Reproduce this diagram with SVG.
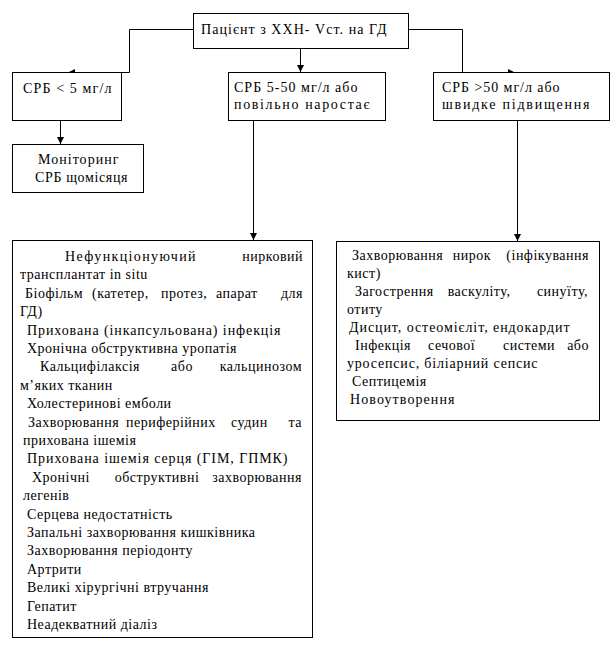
<svg xmlns="http://www.w3.org/2000/svg" width="613" height="649" viewBox="0 0 613 649" font-family="'Liberation Serif', 'Times New Roman', serif">
<style>
.box{fill:#fff;stroke:#000;stroke-width:1}
text{font-family:'Liberation Serif','Times New Roman',serif;font-size:14px;fill:#000;letter-spacing:0.5px}
.e{text-anchor:end}
.m{text-anchor:middle}
.c{fill:none;stroke:#000;stroke-width:1}
</style>
<defs>
<marker id="ah" viewBox="0 0 10 10" refX="10" refY="5" markerWidth="7" markerHeight="7" orient="auto" markerUnits="userSpaceOnUse">
<path d="M0,0 L10,5 L0,10 Z" fill="#000"/>
</marker>
</defs>
<rect width="613" height="649" fill="#fff"/>
<g id="connectors">
<path class="c" d="M193,29.5 H129.5 V72.5 H68" marker-end="url(#ah)"/>
<path class="c" d="M408,29.5 H462.5 V72.5 H515" marker-end="url(#ah)"/>
<path class="c" d="M300.5,48 V72" marker-end="url(#ah)"/>
<path class="c" d="M60.5,120 V144" marker-end="url(#ah)"/>
<path class="c" d="M253.5,120 V240" marker-end="url(#ah)"/>
<path class="c" d="M517.5,120 V241" marker-end="url(#ah)"/>
</g>
<g id="n-top">
<rect class="box" x="193.5" y="13.5" width="215" height="35"/>
<text x="201" y="34" textLength="186" lengthAdjust="spacing">Пацієнт з ХХН- Vст. на ГД</text>
</g>
<g id="n-low">
<rect class="box" x="12.5" y="72.5" width="109" height="48"/>
<text x="23" y="93" textLength="89" lengthAdjust="spacing">СРБ &lt; 5 мг/л</text>
</g>
<g id="n-mid">
<rect class="box" x="228.5" y="72.5" width="157" height="48"/>
<text x="234" y="92" textLength="124" lengthAdjust="spacing">СРБ 5-50 мг/л або</text>
<text x="234" y="109" textLength="136" lengthAdjust="spacing">повільно наростає</text>
</g>
<g id="n-high">
<rect class="box" x="433.5" y="72.5" width="176" height="48"/>
<text x="442" y="92" textLength="118" lengthAdjust="spacing">СРБ &gt;50 мг/л або</text>
<text x="442" y="109" textLength="148" lengthAdjust="spacing">швидке підвищення</text>
</g>
<g id="n-monitor">
<rect class="box" x="12.5" y="144.5" width="131" height="48"/>
<text x="38" y="164" textLength="81" lengthAdjust="spacing">Моніторинг</text>
<text x="35" y="182" textLength="93" lengthAdjust="spacing">СРБ щомісяця</text>
</g>
<g id="n-left-list">
<rect class="box" x="12.5" y="240.5" width="300" height="397"/>
<text x="65" y="261" textLength="131" lengthAdjust="spacing">Нефункціонуючий</text>
<text class="e" x="303" y="261">нирковий</text>
<text x="20" y="279.4">трансплантат in situ</text>
<text y="297.8"><tspan x="25">Біофільм</tspan><tspan x="92">(катетер,</tspan><tspan x="161">протез,</tspan><tspan x="216">апарат</tspan></text>
<text class="e" x="303" y="297.8">для</text>
<text x="20" y="316.2">ГД)</text>
<text x="27" y="334.6" textLength="254" lengthAdjust="spacing">Прихована (інкапсульована) інфекція</text>
<text x="27" y="353">Хронічна обструктивна уропатія</text>
<text x="40" y="371.4">Кальцифілаксія</text>
<text class="m" x="182" y="371.4">або</text>
<text class="e" x="302" y="371.4">кальцинозом</text>
<text x="20" y="389.8">м’яких тканин</text>
<text x="27" y="408.2">Холестеринові емболи</text>
<text y="426.6"><tspan x="28">Захворювання</tspan><tspan x="126">периферійних</tspan><tspan x="231">судин</tspan></text>
<text class="e" x="302" y="426.6">та</text>
<text x="23" y="445">прихована ішемія</text>
<text x="27" y="463.4" textLength="261" lengthAdjust="spacing">Прихована ішемія серця (ГІМ, ГПМК)</text>
<text x="32" y="481.8">Хронічні</text>
<text class="m" x="157" y="481.8">обструктивні</text>
<text class="e" x="302" y="481.8">захворювання</text>
<text x="23" y="500.2">легенів</text>
<text x="27" y="518.6">Серцева недостатність</text>
<text x="27" y="537">Запальні захворювання кишківника</text>
<text x="27" y="555.4">Захворювання періодонту</text>
<text x="27" y="573.8">Артрити</text>
<text x="27" y="592.2">Великі хірургічні втручання</text>
<text x="27" y="610.6">Гепатит</text>
<text x="27" y="629">Неадекватний діаліз</text>
</g>
<g id="n-right-list">
<rect class="box" x="336.5" y="241.5" width="263" height="179"/>
<text x="352" y="260">Захворювання</text>
<text class="m" x="472" y="260">нирок</text>
<text class="e" x="589" y="260">(інфікування</text>
<text x="347" y="278">кист)</text>
<text x="355" y="296">Загострення</text>
<text class="m" x="479" y="296">васкуліту,</text>
<text class="e" x="588" y="296">синуїту,</text>
<text x="347" y="314">отиту</text>
<text x="349" y="332" textLength="221" lengthAdjust="spacing">Дисцит, остеомієліт, ендокардит</text>
<text y="350"><tspan x="355">Інфекція</tspan><tspan x="428">сечової</tspan><tspan x="503">системи</tspan></text>
<text class="e" x="589" y="350">або</text>
<text x="347" y="368" textLength="191" lengthAdjust="spacing">уросепсис, біліарний сепсис</text>
<text x="352" y="386">Септицемія</text>
<text x="350" y="404" textLength="105" lengthAdjust="spacing">Новоутворення</text>
</g>
</svg>
